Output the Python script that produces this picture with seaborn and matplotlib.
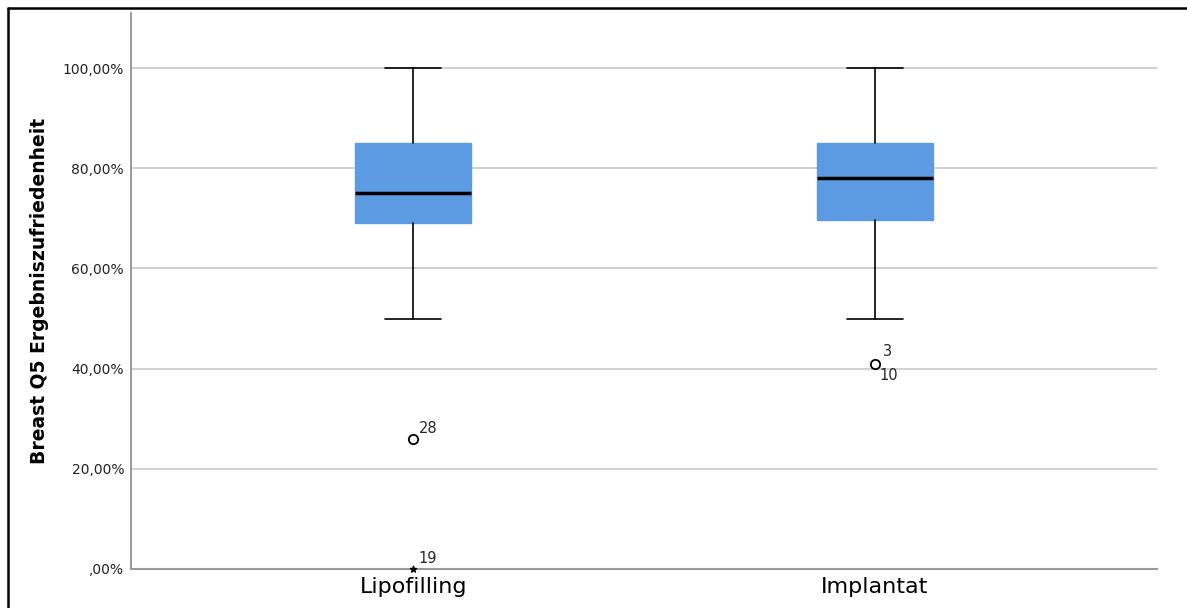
import matplotlib
matplotlib.use("Agg")
import matplotlib.pyplot as plt
import seaborn as sns
from matplotlib.lines import Line2D
from matplotlib.ticker import FuncFormatter

# Gruppen und Kennwerte (in %)
groups = ['Lipofilling', 'Implantat']
q1 = [69.0, 69.7]
median = [75.0, 78.0]
q3 = [85.0, 85.0]
whisker_low = [50.0, 50.0]
whisker_high = [100.0, 100.0]

# Ausreißer: Gruppe, Wert, Markierung, Fallnummer
outlier_group = [0, 0, 1]
outlier_value = [26.0, 0.0, 41.0]
outlier_marker = ['o', '*', 'o']
outlier_label = ['28', '19', '3\n10']

box_color = '#5C9AE2'

sns.set_theme(style='white')
plt.rcParams['font.family'] = ['DejaVu Sans']

fig = plt.figure(figsize=(11.87, 6.08), dpi=100)
ax = fig.add_axes([131 / 1187, 39 / 608, 1026 / 1187, 556 / 608])

stats = []
for i, g in enumerate(groups):
    stats.append({
        'label': g,
        'q1': q1[i], 'med': median[i], 'q3': q3[i],
        'whislo': whisker_low[i], 'whishi': whisker_high[i],
        'fliers': [],
    })

ax.bxp(stats, positions=range(len(groups)), widths=0.25, patch_artist=True,
       showfliers=False,
       boxprops=dict(facecolor=box_color, edgecolor=box_color, linewidth=1),
       medianprops=dict(color='black', linewidth=2.5),
       whiskerprops=dict(color='black', linewidth=1.2),
       capprops=dict(color='black', linewidth=1.2),
       capwidths=0.12, zorder=3)

# Ausreißer
for g, v, m, lab in zip(outlier_group, outlier_value, outlier_marker, outlier_label):
    if m == 'o':
        ax.scatter(g, v, marker='o', s=45, facecolor='white', edgecolor='black',
                   linewidth=1.3, zorder=4, clip_on=False)
    else:
        ax.scatter(g, v, marker='*', s=22, color='black', zorder=4, clip_on=False)
    if '\n' in lab:
        top, bottom = lab.split('\n')
        ax.annotate(top, (g, v), xytext=(6, 3), textcoords='offset points',
                    fontsize=10.5, va='bottom', ha='left')
        ax.annotate(bottom, (g, v), xytext=(3, -3), textcoords='offset points',
                    fontsize=10.5, va='top', ha='left')
    else:
        ax.annotate(lab, (g, v), xytext=(4, 2), textcoords='offset points',
                    fontsize=10.5, va='bottom', ha='left')

ax.set_xlim(-0.611, 1.611)
ax.set_ylim(0, 111)
ax.set_yticks([0, 20, 40, 60, 80, 100])
ax.yaxis.set_major_formatter(FuncFormatter(
    lambda v, p: ',00%' if v == 0 else f'{v:.2f}'.replace('.', ',') + '%'))
ax.set_xticks(range(len(groups)))
ax.set_xticklabels(groups, fontsize=16, color='black')
ax.tick_params(axis='y', labelsize=10, length=0, pad=5, labelcolor='#222222')
ax.tick_params(axis='x', length=0, pad=6)

ax.grid(axis='y', color='#c8c8c8', linewidth=1.2, zorder=0)
ax.set_axisbelow(True)
for s in ['top', 'right']:
    ax.spines[s].set_visible(False)
ax.spines['left'].set_color('#888888')
ax.spines['bottom'].set_color('#999999')
ax.spines['left'].set_linewidth(1.2)
ax.spines['bottom'].set_linewidth(1.5)

ax.set_ylabel('Breast Q5 Ergebniszufriedenheit', fontsize=13.5, fontweight='bold',
              labelpad=10, color='black')
ax.set_xlabel('')

# äußerer Rahmen
fig.add_artist(Line2D([8 / 1187, 1], [1 - 8 / 608, 1 - 8 / 608], color='black', lw=1.8,
                      transform=fig.transFigure))
fig.add_artist(Line2D([8 / 1187, 8 / 1187], [0, 1 - 8 / 608], color='black', lw=1.8,
                      transform=fig.transFigure))

fig.savefig('out.png', dpi=100)
